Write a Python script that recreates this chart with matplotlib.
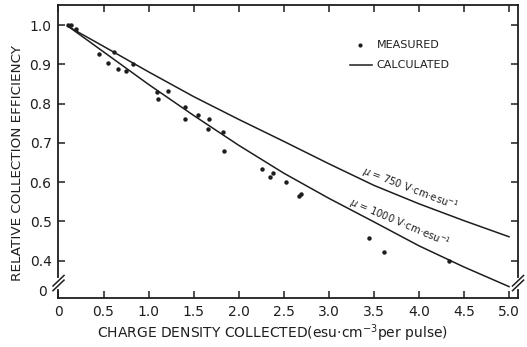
import matplotlib
matplotlib.use("Agg")
import matplotlib.pyplot as plt

# measured points
meas_x = [0.11, 0.14, 0.19, 0.45, 0.55, 0.62, 0.66, 0.75, 0.83, 1.09, 1.10, 1.21,
          1.40, 1.40, 1.55, 1.66, 1.67, 1.83, 1.84, 2.26, 2.35, 2.38, 2.53, 2.67,
          2.69, 3.45, 3.61, 4.33]
meas_y = [1.0, 1.0, 0.99, 0.926, 0.904, 0.931, 0.888, 0.883, 0.90, 0.830, 0.812, 0.832,
          0.791, 0.760, 0.771, 0.735, 0.760, 0.727, 0.679, 0.633, 0.612, 0.623, 0.600, 0.566,
          0.569, 0.457, 0.423, 0.400]

# calculated curves
calc_x = [0.12, 0.5, 1.0, 1.5, 2.0, 2.5, 3.0, 3.5, 4.0, 4.5, 5.0]
calc_750 = [0.995, 0.946, 0.881, 0.818, 0.760, 0.704, 0.647, 0.592, 0.545, 0.502, 0.461]
calc_1000 = [0.995, 0.932, 0.849, 0.770, 0.694, 0.623, 0.559, 0.499, 0.438, 0.384, 0.334]

xticks = [0, 0.5, 1.0, 1.5, 2.0, 2.5, 3.0, 3.5, 4.0, 4.5, 5.0]
xlabels = ['0', '0.5', '1.0', '1.5', '2.0', '2.5', '3.0', '3.5', '4.0', '4.5', '5.0']
yticks = [0.4, 0.5, 0.6, 0.7, 0.8, 0.9, 1.0]
ylabels = ['0.4', '0.5', '0.6', '0.7', '0.8', '0.9', '1.0']

ink = '#1e1e1e'
plt.rcParams['font.family'] = ['DejaVu Sans']

fig = plt.figure(figsize=(5.27, 3.47), dpi=100)
ax = fig.add_axes([0.111, 0.1412, 0.872, 0.844])

ax.plot(calc_x, calc_750, color=ink, lw=1.1)
ax.plot(calc_x, calc_1000, color=ink, lw=1.1)
ax.plot(meas_x, meas_y, 'o', color=ink, ms=3.2, mec='none')

ax.set_xlim(0, 5.1)
ax.set_ylim(0.305, 1.051)
ax.set_xticks(xticks)
ax.set_xticklabels(xlabels)
ax.set_yticks(yticks)
ax.set_yticklabels(ylabels)
ax.tick_params(direction='in', length=5, width=1.1, top=True, right=True,
               labelsize=10, colors=ink, pad=5)
for s in ax.spines.values():
    s.set_linewidth(1.3)
    s.set_color(ink)

# "0" at the bottom of the broken y axis
ax.text(-0.025, 0.02, '0', transform=ax.transAxes, ha='right', va='center',
        fontsize=10, color=ink)

# axis break marks
for xa in (0.0, 1.0):
    yb = 0.051
    ax.plot([xa, xa], [yb - 0.012, yb + 0.012], transform=ax.transAxes,
            color='white', lw=3, clip_on=False, zorder=5)
    for dy in (-0.008, 0.008):
        ax.plot([xa - 0.012, xa + 0.012], [yb + dy - 0.018, yb + dy + 0.018],
                transform=ax.transAxes, color=ink, lw=1.1, clip_on=False, zorder=6)

# legend
ax.plot([3.35], [0.949], 'o', color=ink, ms=3, mec='none')
ax.text(3.53, 0.949, 'MEASURED', fontsize=8, color=ink, va='center')
ax.plot([3.23, 3.48], [0.898, 0.898], color=ink, lw=1.1)
ax.text(3.53, 0.898, 'CALCULATED', fontsize=8, color=ink, va='center')

# curve labels
ax.text(3.90, 0.582, r'$\mu$ = 750 V·cm·esu$^{-1}$', fontsize=7.2, color=ink,
        rotation=-21, ha='center', va='center', rotation_mode='anchor')
ax.text(3.79, 0.496, r'$\mu$ = 1000 V·cm·esu$^{-1}$', fontsize=7.2, color=ink,
        rotation=-23, ha='center', va='center', rotation_mode='anchor')

fig.text(0.034, 0.53, 'RELATIVE COLLECTION EFFICIENCY', rotation=90,
         ha='center', va='center', fontsize=9.7, color=ink)
fig.text(0.518, 0.04, r'CHARGE DENSITY COLLECTED(esu·cm$^{-3}$per pulse)',
         ha='center', va='center', fontsize=10, color=ink)

fig.savefig('out.png', dpi=100, facecolor='white')
